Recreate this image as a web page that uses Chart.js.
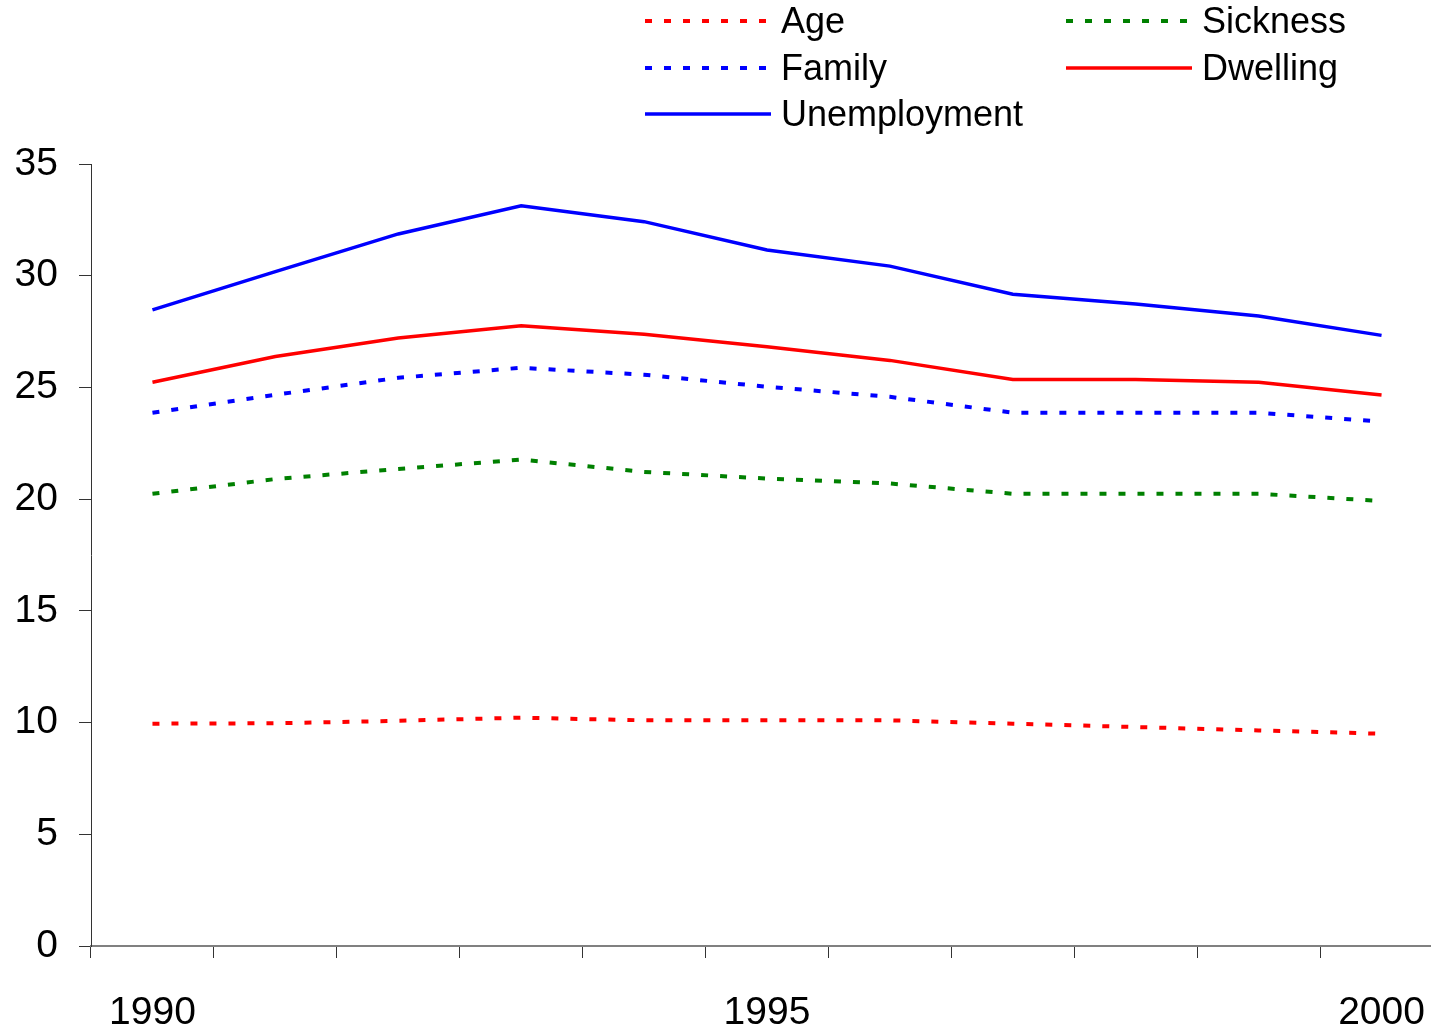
<!DOCTYPE html>
<html>
<head>
<meta charset="utf-8">
<script src="https://cdn.jsdelivr.net/npm/chart.js@4"></script>
<style>
  body { margin: 0; background: #fff; }
  #wrap { position: relative; width: 1431px; height: 1030px; overflow: hidden; }
  #legend {
    position: absolute; left: 645px; top: -2px;
    display: grid; grid-template-columns: 421px 421px; grid-auto-rows: 46.5px;
    font-family: "Liberation Sans", Arial, sans-serif; font-size: 36px; color: #000;
  }
  #legend .item { display: flex; align-items: center; line-height: 46px; white-space: nowrap; }
  #legend svg { margin-right: 10px; flex: none; }
</style>
</head>
<body>
<div id="wrap">
  <!-- plot runs slightly past the right edge; the wrapper crops it -->
  <canvas id="socialChart" width="1443" height="1030"></canvas>
  <div id="legend"></div>
</div>
<script>
const years = ['1990', '1991', '1992', '1993', '1994', '1995', '1996', '1997', '1998', '1999', '2000'];
const shownYears = ['1990', '1995', '2000'];

// benefit shares by function, per year
const age = [9.95, 9.97, 10.08, 10.22, 10.1, 10.1, 10.1, 9.95, 9.8, 9.65, 9.5];
const sickness = [20.24, 20.9, 21.35, 21.77, 21.22, 20.92, 20.7, 20.24, 20.24, 20.24, 19.92];
const family = [23.87, 24.67, 25.43, 25.88, 25.57, 25.03, 24.58, 23.87, 23.87, 23.87, 23.47];
const dwelling = [25.23, 26.38, 27.21, 27.76, 27.38, 26.82, 26.21, 25.36, 25.36, 25.23, 24.66];
const unemployment = [28.47, 30.18, 31.87, 33.13, 32.42, 31.15, 30.43, 29.17, 28.73, 28.2, 27.33];

const yTicks = { min: 0, max: 35, step: 5 };

const dotted = [7, 12];

function series(label, values, color, dash) {
  return {
    label: label,
    data: values,
    borderColor: color,
    backgroundColor: color,
    borderWidth: dash ? 4 : 3.5,
    borderDash: dash || [],
    borderCapStyle: 'butt',
    pointRadius: 0,
    tension: 0,
    fill: false,
  };
}

const data = {
  labels: years,
  datasets: [
    series('Age', age, '#ff0000', dotted),
    series('Sickness', sickness, '#008000', dotted),
    series('Family', family, '#0000ff', dotted),
    series('Dwelling', dwelling, '#ff0000'),
    series('Unemployment', unemployment, '#0000ff'),
  ],
};

const tickFont = { family: '"Liberation Sans", Arial, sans-serif', size: 39 };

const config = {
  type: 'line',
  data: data,
  options: {
    responsive: false,
    animation: false,
    layout: { padding: { top: 164, right: 0, left: 0, bottom: 0 } },
    plugins: {
      legend: { display: false },
      tooltip: { enabled: false },
    },
    scales: {
      x: {
        offset: true,
        grid: {
          offset: true,
          drawOnChartArea: false,
          tickLength: 12,
          color: '#333',
        },
        border: { color: '#808080', width: 2 },
        ticks: {
          autoSkip: false,
          maxRotation: 0,
          padding: 32,
          color: '#000',
          font: tickFont,
          callback: function (value) {
            const y = this.getLabelForValue(value);
            return shownYears.includes(y) ? y : '';
          },
        },
        afterFit: function (scale) {
          scale.height = 84;
          scale.paddingLeft = 0;
          scale.paddingRight = 0;
        },
      },
      y: {
        min: yTicks.min,
        max: yTicks.max,
        grid: {
          drawOnChartArea: false,
          tickLength: 12,
          color: '#333',
        },
        border: { color: '#333', width: 1 },
        ticks: {
          stepSize: yTicks.step,
          padding: 21,
          color: '#000',
          font: tickFont,
        },
        afterFit: function (scale) { scale.width = 91; },
      },
    },
  },
};

const socialChart = new Chart(
  document.getElementById('socialChart').getContext('2d'),
  config
);

// legend in two columns, filled row by row
const legendBox = document.getElementById('legend');
socialChart.data.datasets.forEach(function (ds) {
  const item = document.createElement('div');
  item.className = 'item';
  const dash = ds.borderDash.length ? ' stroke-dasharray="' + ds.borderDash.join(' ') + '"' : '';
  item.innerHTML =
    '<svg width="126" height="8"><line x1="0" y1="4" x2="126" y2="4" stroke="' + ds.borderColor +
    '" stroke-width="' + ds.borderWidth + '"' + dash + '/></svg><span>' + ds.label + '</span>';
  legendBox.appendChild(item);
});
</script>
</body>
</html>
